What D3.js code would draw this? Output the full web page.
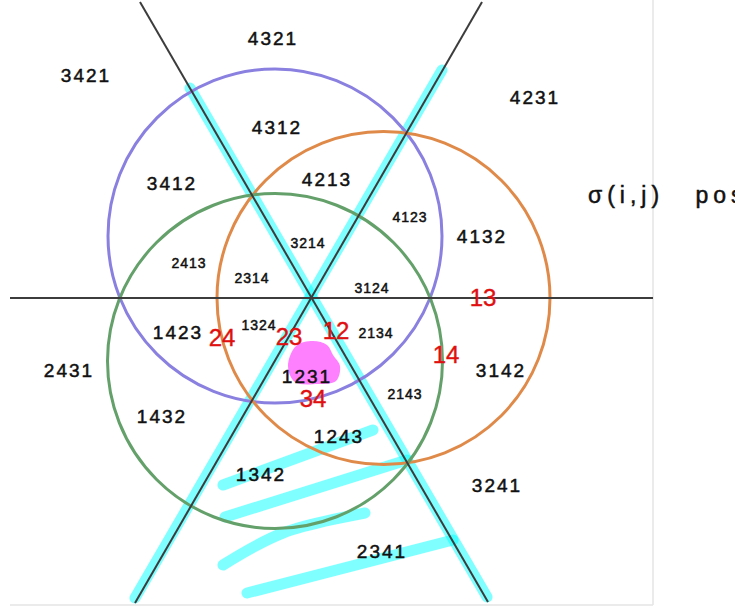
<!DOCTYPE html>
<html>
<head>
<meta charset="utf-8">
<script src="https://cdn.jsdelivr.net/npm/d3@7"></script>
<style>
  body { margin: 0; background: #fff; }
  svg { display: block; }
  .lbl { font-family: "Liberation Sans", Arial, sans-serif; fill: #111; stroke: #111; stroke-width: 0.5px; }
  .red { font-family: "Liberation Sans", Arial, sans-serif; fill: #e01010; stroke: #e01010; stroke-width: 0.4px; }
</style>
</head>
<body>
<svg id="chart"></svg>
<script>
// diagram coords: origin where the three lines cross, y up, 1 unit = 100px
const CIRCLES = [
  { id: "purple", cx: -0.38, cy: 0.62, r: 1.67, color: "#8a80e0" },
  { id: "orange", cx: 0.705, cy: 0.0, r: 1.665, color: "#e08a4a" },
  { id: "green", cx: -0.38, cy: -0.63, r: 1.675, color: "#64a06a" },
];

const LINES = [
  [[-3.03, 0], [3.40, 0]],
  [[-1.73, 2.96], [1.75, -3.04]],
  [[-1.78, -3.05], [1.69, 2.96]],
];

const HIGHLIGHTS = [
  [[-1.23, 2.10], [1.74, -2.99]],
  [[-1.78, -3.00], [1.29, 2.28]],
  [[-0.90, -1.87], [0.60, -1.32]],
  [[-0.88, -2.19], [0.94, -1.62]],
  [[-0.90, -2.67], [-0.30, -2.35], [0.52, -2.15]],
  [[-0.66, -2.95], [1.40, -2.42]],
];

const BLOB = [
  [-0.25, -0.68], [-0.17, -0.48], [0.0, -0.43], [0.14, -0.47], [0.20, -0.57],
  [0.27, -0.68], [0.23, -0.83], [0.05, -0.86], [-0.18, -0.84],
];

const LABELS = [
  { t: "4321", x: -0.40, y: 2.60 },
  { t: "3421", x: -2.27, y: 2.23 },
  { t: "4231", x: 2.22, y: 2.01 },
  { t: "4312", x: -0.36, y: 1.71 },
  { t: "3412", x: -1.41, y: 1.15 },
  { t: "4213", x: 0.14, y: 1.19 },
  { t: "4132", x: 1.69, y: 0.62 },
  { t: "1423", x: -1.35, y: -0.34 },
  { t: "2431", x: -2.44, y: -0.72 },
  { t: "1231", x: -0.06, y: -0.78 },
  { t: "3142", x: 1.88, y: -0.72 },
  { t: "1432", x: -1.51, y: -1.18 },
  { t: "1243", x: 0.26, y: -1.38 },
  { t: "1342", x: -0.52, y: -1.76 },
  { t: "3241", x: 1.84, y: -1.87 },
  { t: "2341", x: 0.69, y: -2.53 },
];

// written smaller, squeezed into the middle cells
const SMALL_LABELS = [
  { t: "4123", x: 0.97, y: 0.81 },
  { t: "3214", x: -0.05, y: 0.55 },
  { t: "2413", x: -1.24, y: 0.35 },
  { t: "2314", x: -0.61, y: 0.20 },
  { t: "3124", x: 0.59, y: 0.10 },
  { t: "1324", x: -0.54, y: -0.27 },
  { t: "2134", x: 0.63, y: -0.35 },
  { t: "2143", x: 0.92, y: -0.96 },
];

const RED_LABELS = [
  { t: "13", x: 1.70, y: 0.01 },
  { t: "24", x: -0.91, y: -0.39 },
  { t: "23", x: -0.24, y: -0.38 },
  { t: "12", x: 0.23, y: -0.32 },
  { t: "14", x: 1.33, y: -0.56 },
  { t: "34", x: 0.0, y: -1.00 },
];

const NOTE = { t: "σ(i,j) pos", x: 2.75, y: 1.03 };

const width = 735, height = 607;

const svg = d3.select("#chart").attr("width", width).attr("height", height);

const x = d3.scaleLinear().domain([-3.13, 4.22]).range([0, width]);
const y = d3.scaleLinear().domain([2.98, -3.09]).range([0, height]);

// page edges
svg.append("line")
  .attr("x1", x(3.40)).attr("x2", x(3.40))
  .attr("y1", 0).attr("y2", y(-3.07))
  .attr("stroke", "#e4e4e4").attr("stroke-width", 1.5);
svg.append("line")
  .attr("x1", x(-3.03)).attr("x2", x(3.40))
  .attr("y1", y(-3.07)).attr("y2", y(-3.07))
  .attr("stroke", "#e4e4e4").attr("stroke-width", 1.5);

const path = d3.line().x((d) => x(d[0])).y((d) => y(d[1])).curve(d3.curveCatmullRom);

svg.append("g")
  .selectAll("path")
  .data(HIGHLIGHTS)
  .enter()
  .append("path")
  .attr("d", path)
  .attr("fill", "none")
  .attr("stroke", "#00ffff")
  .attr("stroke-opacity", 0.5)
  .attr("stroke-width", 11)
  .attr("stroke-linecap", "round");

svg.append("g")
  .selectAll("circle")
  .data(CIRCLES)
  .enter()
  .append("circle")
  .attr("cx", (d) => x(d.cx))
  .attr("cy", (d) => y(d.cy))
  .attr("r", (d) => x(d.r) - x(0))
  .attr("fill", "none")
  .attr("stroke", (d) => d.color)
  .attr("stroke-width", 3);

svg.append("g")
  .selectAll("path")
  .data(LINES)
  .enter()
  .append("path")
  .attr("d", path)
  .attr("fill", "none")
  .attr("stroke", "#3c3c3c")
  .attr("stroke-width", 2);

svg.append("path")
  .attr("d", d3.line().x((d) => x(d[0])).y((d) => y(d[1])).curve(d3.curveCatmullRomClosed)(BLOB))
  .attr("fill", "#ff80ff");

function addLabels(data, cls, size, spacing) {
  svg.append("g")
    .selectAll("text")
    .data(data)
    .enter()
    .append("text")
    .attr("class", cls)
    .attr("x", (d) => x(d.x))
    .attr("y", (d) => y(d.y))
    .attr("text-anchor", "middle")
    .attr("dominant-baseline", "central")
    .style("font-size", size + "px")
    .style("letter-spacing", spacing + "px")
    .text((d) => d.t);
}

addLabels(LABELS, "lbl", 19, 2);
addLabels(SMALL_LABELS, "lbl", 14, 1);
addLabels(RED_LABELS, "red", 24, 0);

svg.append("text")
  .attr("class", "lbl")
  .attr("x", x(NOTE.x))
  .attr("y", y(NOTE.y))
  .attr("dominant-baseline", "central")
  .style("font-size", "23px")
  .style("letter-spacing", "5px")
  .style("word-spacing", "20px")
  .text(NOTE.t);
</script>
</body>
</html>
